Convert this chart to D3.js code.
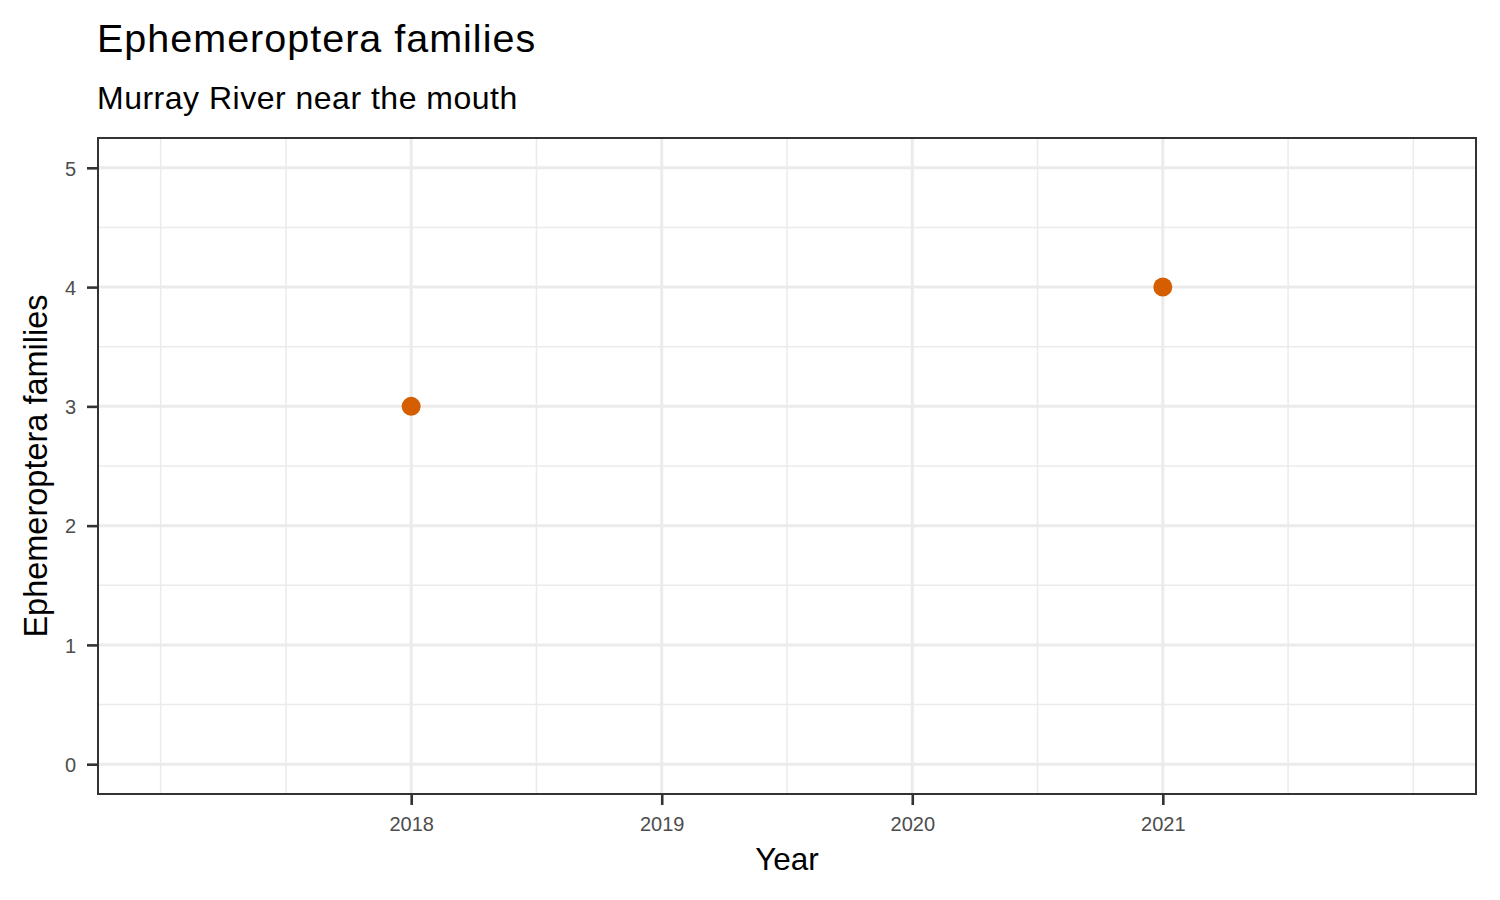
<!DOCTYPE html>
<html>
<head>
<meta charset="utf-8">
<script src="https://cdn.jsdelivr.net/npm/d3@7"></script>
<style>
  html, body { margin: 0; padding: 0; background: #fff; }
  svg { display: block; font-family: "Liberation Sans", Arial, Helvetica, sans-serif; }
</style>
</head>
<body>
<svg id="chart" width="1500" height="900"></svg>
<script>
// ---- data ----
const years = [2018, 2021];
const families = [3, 4];
const xTickValues = [2018, 2019, 2020, 2021];
const xMinorValues = [2017, 2017.5, 2018.5, 2019.5, 2020.5, 2021.5, 2022];
const yTickValues = [0, 1, 2, 3, 4, 5];
const yMinorValues = [0.5, 1.5, 2.5, 3.5, 4.5];
const titleText = "Ephemeroptera families";
const subtitleText = "Murray River near the mouth";
const xLabel = "Year";
const yLabel = "Ephemeroptera families";

// ---- layout ----
const svg = d3.select("#chart");
const panel = { left: 98, right: 1476, top: 138, bottom: 794 };

const x = d3.scaleLinear().domain([2016.75, 2022.25]).range([panel.left, panel.right]);
const y = d3.scaleLinear().domain([-0.25, 5.25]).range([panel.bottom, panel.top]);

const grid = "#EBEBEB";

svg.append("rect")
  .attr("x", panel.left).attr("y", panel.top)
  .attr("width", panel.right - panel.left).attr("height", panel.bottom - panel.top)
  .attr("fill", "#fff");

const g = svg.append("g");

// minor grid
g.selectAll(".xminor").data(xMinorValues).join("line")
  .attr("x1", d => x(d)).attr("x2", d => x(d))
  .attr("y1", panel.top).attr("y2", panel.bottom)
  .attr("stroke", grid).attr("stroke-width", 1.5);
g.selectAll(".yminor").data(yMinorValues).join("line")
  .attr("y1", d => y(d)).attr("y2", d => y(d))
  .attr("x1", panel.left).attr("x2", panel.right)
  .attr("stroke", grid).attr("stroke-width", 1.5);

// major grid
g.selectAll(".xmajor").data(xTickValues).join("line")
  .attr("x1", d => x(d)).attr("x2", d => x(d))
  .attr("y1", panel.top).attr("y2", panel.bottom)
  .attr("stroke", grid).attr("stroke-width", 3);
g.selectAll(".ymajor").data(yTickValues).join("line")
  .attr("y1", d => y(d)).attr("y2", d => y(d))
  .attr("x1", panel.left).attr("x2", panel.right)
  .attr("stroke", grid).attr("stroke-width", 3);

// points
g.selectAll(".pt").data(years.map((yr, i) => ({ yr, v: families[i] }))).join("circle")
  .attr("cx", d => x(d.yr)).attr("cy", d => y(d.v))
  .attr("r", 9.5).attr("fill", "#D55E00");

// panel border
svg.append("rect")
  .attr("x", panel.left).attr("y", panel.top)
  .attr("width", panel.right - panel.left).attr("height", panel.bottom - panel.top)
  .attr("fill", "none").attr("stroke", "#333333").attr("stroke-width", 2);

// axes
const xAxis = d3.axisBottom(x).tickValues(xTickValues).tickFormat(d3.format("d"))
  .tickSize(11).tickPadding(8);
const yAxis = d3.axisLeft(y).tickValues(yTickValues).tickFormat(d3.format("d"))
  .tickSize(11).tickPadding(8);

const xg = svg.append("g").attr("transform", `translate(0,${panel.bottom})`).call(xAxis);
const yg = svg.append("g").attr("transform", `translate(${panel.left},0)`).call(yAxis);
[xg, yg].forEach(a => {
  a.select(".domain").remove();
  a.selectAll(".tick line").attr("stroke", "#333333").attr("stroke-width", 2.6);
  a.selectAll(".tick text").attr("fill", "#4D4D4D").style("font-size", "20px")
    .style("font-family", "'Liberation Sans', Arial, sans-serif");
});
xg.selectAll(".tick text").attr("dy", null).attr("y", 37);
yg.selectAll(".tick text").attr("dy", "0.36em").attr("x", -22);

// titles
svg.append("text").attr("x", 97).attr("y", 52)
  .attr("fill", "#000").style("font-size", "39.5px").style("letter-spacing", "1px")
  .text(titleText);
svg.append("text").attr("x", 97).attr("y", 109)
  .attr("fill", "#000").style("font-size", "32px").style("letter-spacing", "0.5px")
  .text(subtitleText);

svg.append("text").attr("x", (panel.left + panel.right) / 2).attr("y", 870)
  .attr("text-anchor", "middle").attr("fill", "#000").style("font-size", "31.5px")
  .text(xLabel);
svg.append("text")
  .attr("transform", `translate(47,${(panel.top + panel.bottom) / 2}) rotate(-90)`)
  .attr("text-anchor", "middle").attr("fill", "#000").style("font-size", "32.5px")
  .text(yLabel);
</script>
</body>
</html>
